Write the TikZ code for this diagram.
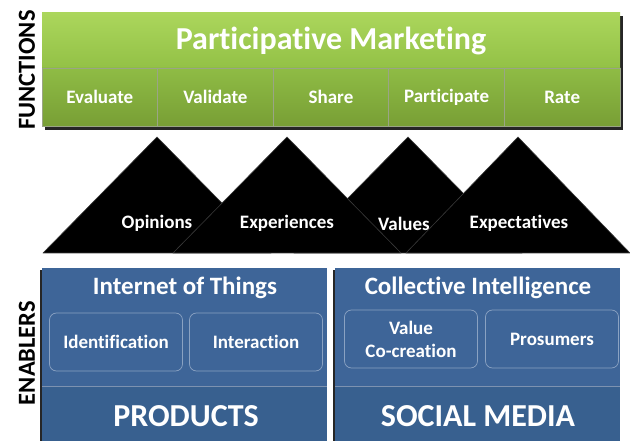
\documentclass[tikz,border=0pt]{standalone}
\usepackage{fontspec}
\setmainfont{Carlito}[Ligatures=CommonOff]
\definecolor{gTop}{HTML}{ABD65C}
\definecolor{gBot}{HTML}{93C146}
\definecolor{gRowTop}{HTML}{8FBC45}
\definecolor{gRowBot}{HTML}{789F35}
\definecolor{gLine}{HTML}{9AA585}
\definecolor{bFill}{HTML}{3E6598}
\definecolor{bFillDk}{HTML}{38608F}
\definecolor{bLine}{HTML}{8AA2C2}
\definecolor{bSep}{HTML}{7D92B0}
\definecolor{triEdge}{HTML}{3A3A3A}
\begin{document}
\begin{tikzpicture}[x=1pt,y=-1pt,
  every node/.style={font=\bfseries, text=white, inner sep=0pt, outer sep=0pt},
  sidelabel/.style={rotate=90, text=black, font=\bfseries\fontsize{24.5}{24.5}\selectfont},
  titleband/.style={anchor=north west, top color=gTop, bottom color=gBot,
    minimum width=578pt, minimum height=55pt},
  cell/.style={anchor=north west, top color=gRowTop, bottom color=gRowBot,
    draw=gLine, line width=0.8pt, minimum width=115.6pt, minimum height=58pt,
    font=\bfseries\fontsize{19}{19}\selectfont},
  peak/.style={fill=black, draw=triEdge, line width=0.6pt, line join=round},
  peaklabel/.style={font=\bfseries\fontsize{19}{19}\selectfont},
  bluepanel/.style={anchor=north west, fill=bFill, minimum width=285pt, minimum height=173pt},
  band/.style={anchor=north west, fill=bFillDk, minimum width=285pt, minimum height=55pt},
  inner/.style={draw=bLine, line width=0.7pt, rounded corners=7pt, fill=bFill,
    minimum width=133pt, minimum height=58pt, align=center,
    font=\bfseries\fontsize{19}{23}\selectfont},
  paneltitle/.style={font=\bfseries\fontsize{25}{25}\selectfont},
  bandtext/.style={font=\bfseries\fontsize{32}{32}\selectfont}
]
\useasboundingbox[fill=white] (0,0) rectangle (630,441);

% ---- functions block ----
\fill[black!85] (45,16) rectangle (623,130);
\node[titleband] (pm) at (42,13) {};
\node[font=\bfseries\fontsize{32}{32}\selectfont] (pmtext) at (pm.center) {Participative Marketing};
\foreach \lab [count=\i from 0] in {Evaluate,Validate,Share,Participate,Rate}{
  \node[cell] (f\i) at ({42+115.6*\i},68) {\lab};
}
\node[sidelabel] (functions) at (27,70) {FUNCTIONS};

% ---- peaks ----
\coordinate (t1) at (157,137);
\coordinate (t2) at (287,137);
\coordinate (t3) at (408,137);
\coordinate (t4) at (518,137);
\draw[peak] (t1) -- ++(-114,116) -- ++(228,0) -- cycle;
\draw[peak] (t3) -- ++(-114,116) -- ++(228,0) -- cycle;
\draw[peak] (t2) -- ++(-114,116) -- ++(228,0) -- cycle;
\draw[peak] (t4) -- ++(-112,116) -- ++(224,0) -- cycle;
\node[peaklabel] (op) at (157,223) {Opinions};
\node[peaklabel] (ex) at (287,223) {Experiences};
\node[peaklabel] (va) at (404,224) {Values};
\node[peaklabel] (et) at (519,223) {Expectatives};

% ---- enablers ----
\fill[black!85] (40,270) rectangle (44,441);
\fill[black!85] (333,270) rectangle (337,441);
\node[bluepanel] (iot) at (42,268) {};
\node[bluepanel] (ci) at (335,268) {};
\node[band] (prod) at (42,386) {};
\node[band] (soc) at (335,386) {};
\draw[bSep, line width=0.8pt] (prod.north west) -- (prod.north east);
\draw[bSep, line width=0.8pt] (soc.north west) -- (soc.north east);
\node[paneltitle] (iott) at (185,288) {Internet of Things};
\node[paneltitle] (cit) at (478,288) {Collective Intelligence};
\node[inner] (ident) at (116,342) {Identification};
\node[inner] (inter) at (256,342) {Interaction};
\node[inner] (vcc) at (411,339) {Value\\Co-creation};
\node[inner] (pros) at (552,339) {Prosumers};
\node[bandtext] (prodt) at (186,416) {PRODUCTS};
\node[bandtext] (soct) at (478,416) {SOCIAL MEDIA};
\node[sidelabel] (enablers) at (27,353) {ENABLERS};
\end{tikzpicture}
\end{document}
